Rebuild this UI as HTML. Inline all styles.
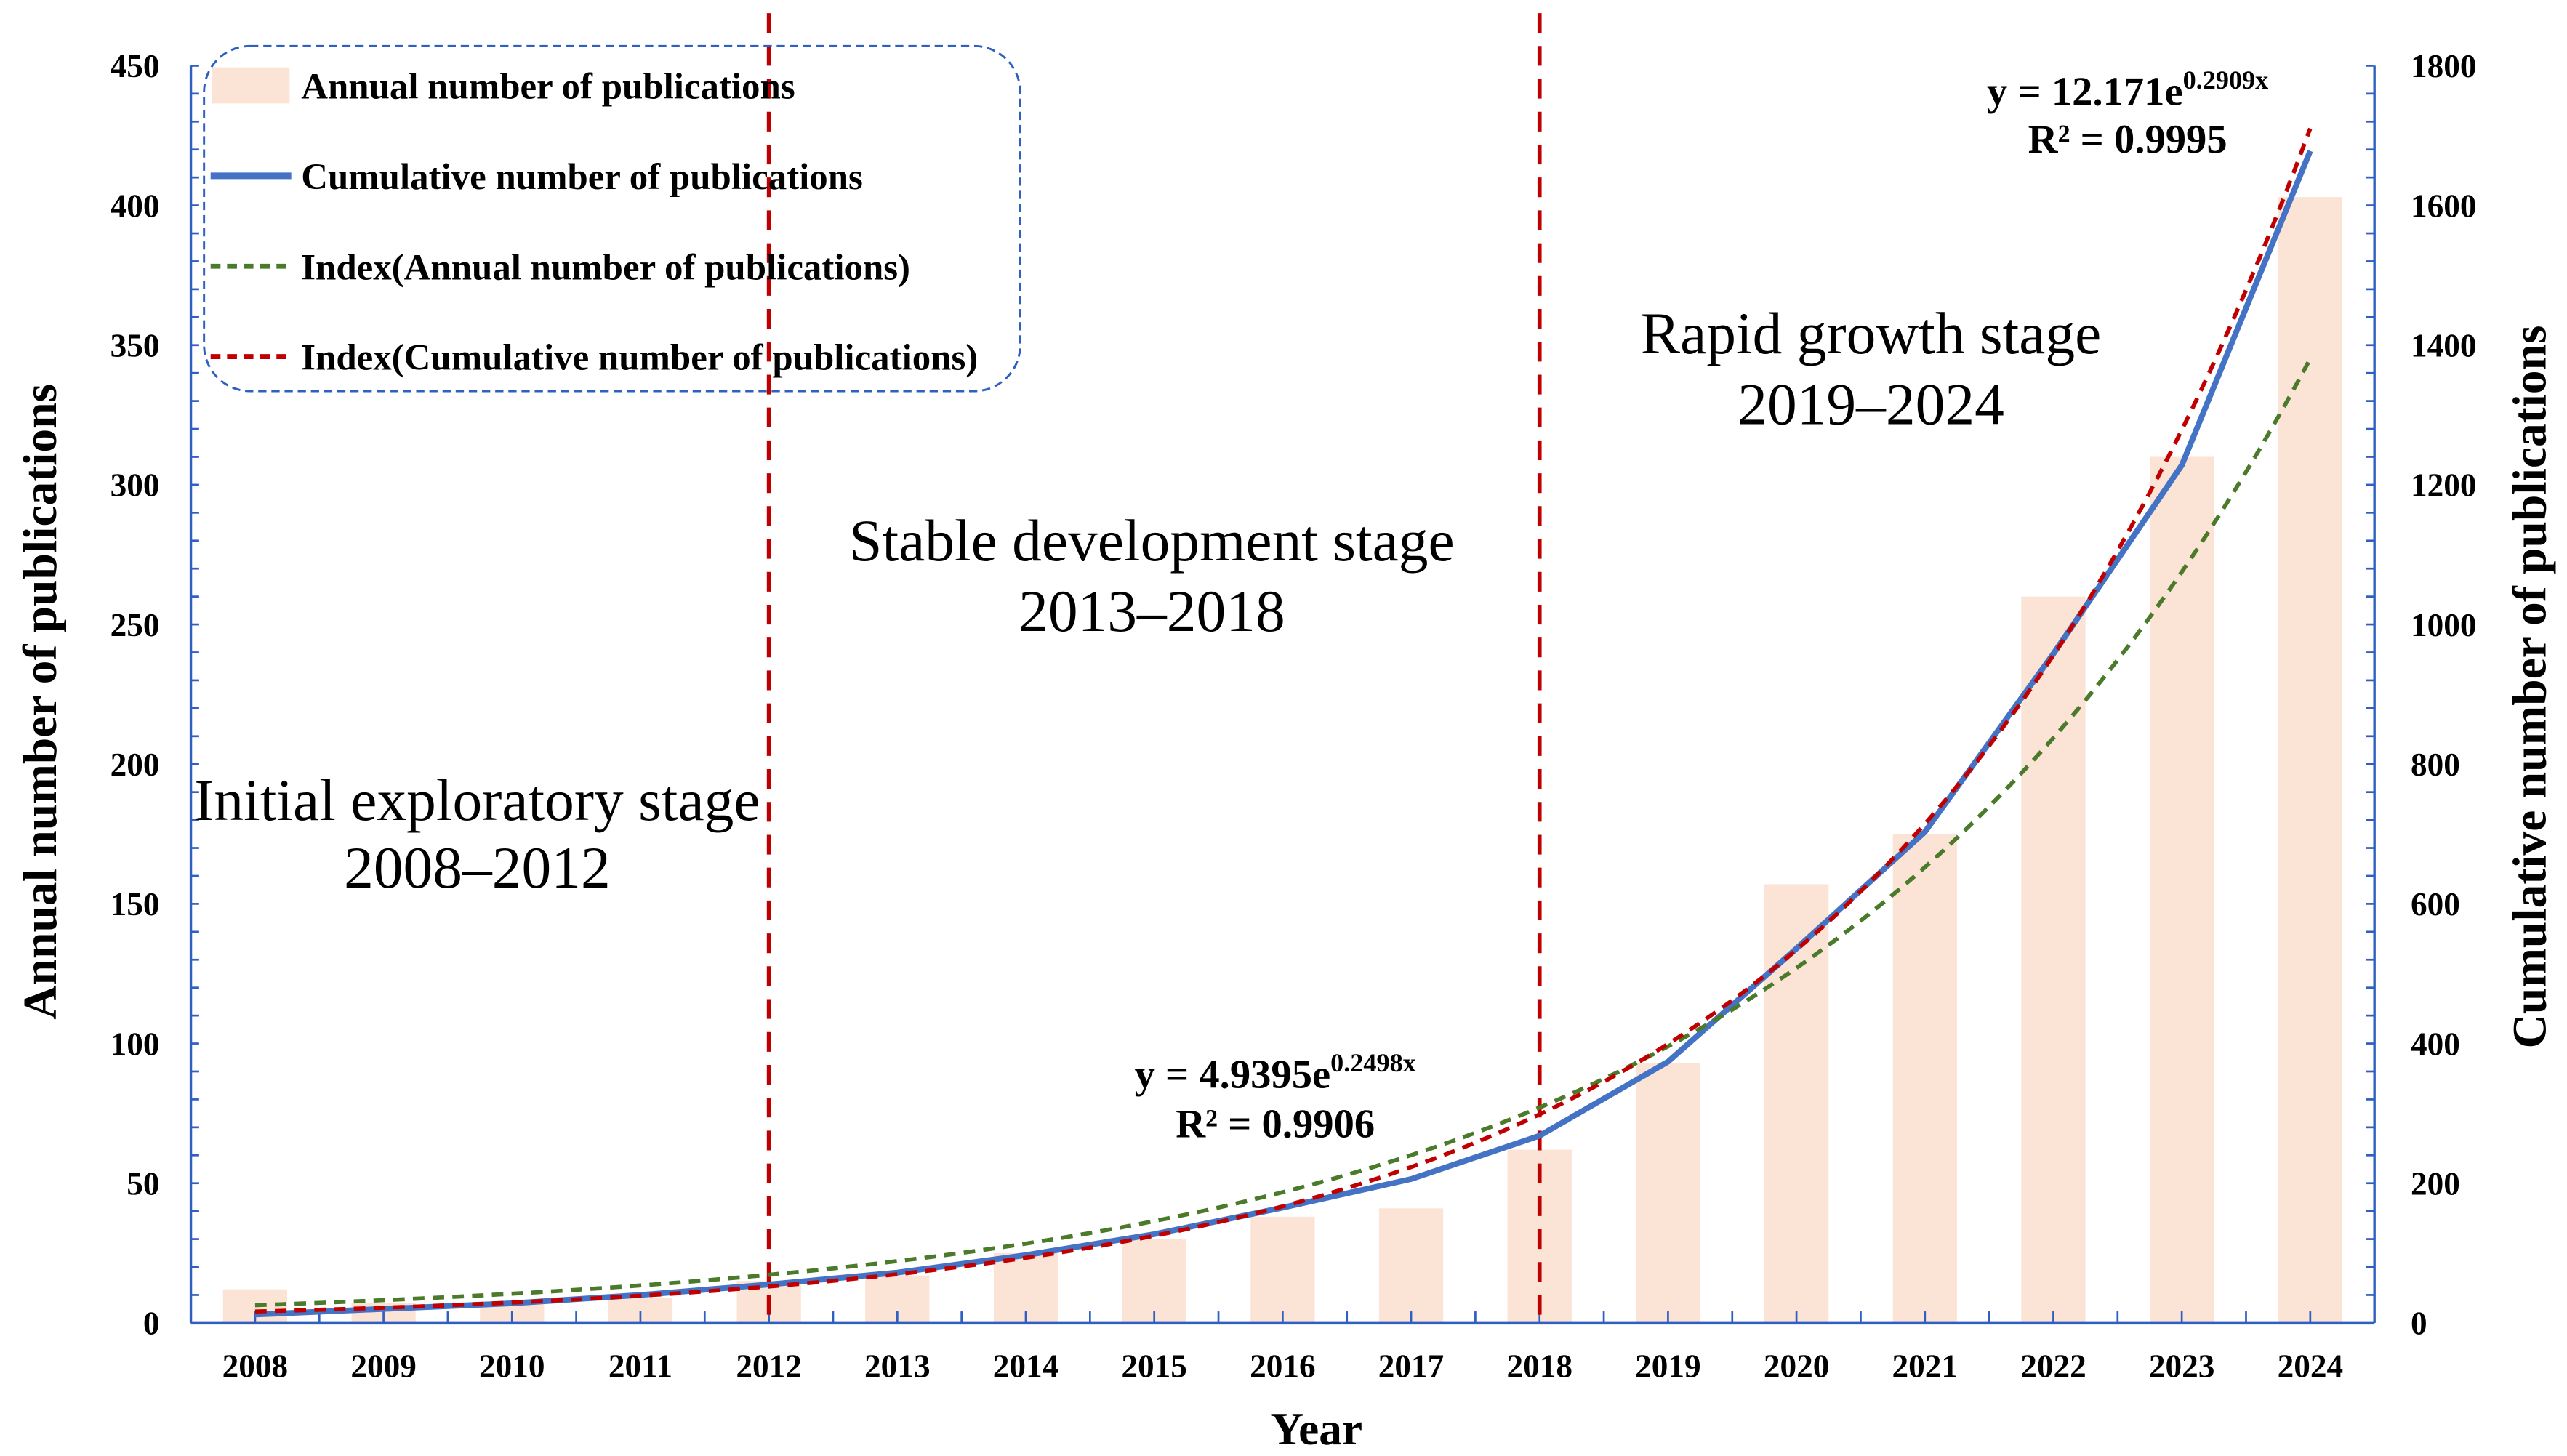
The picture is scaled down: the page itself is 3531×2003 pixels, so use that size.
<!DOCTYPE html>
<html><head><meta charset="utf-8">
<style>
html,body{margin:0;padding:0;background:#fff;}
svg{display:block;}
text{font-family:"Liberation Serif",serif;}
</style></head>
<body>
<svg id="chart" xmlns="http://www.w3.org/2000/svg" width="3531" height="2003" viewBox="0 0 1560 886" preserveAspectRatio="none">
<g id="bars"></g>
<g id="grid"></g>
<g id="lines"></g>
<g id="labels">
  <text x="290" y="499" font-size="36" text-anchor="middle">Initial exploratory stage</text>
  <text x="290" y="540" font-size="36" text-anchor="middle">2008–2012</text>
  <text x="700" y="341" font-size="36" text-anchor="middle">Stable development stage</text>
  <text x="700" y="384" font-size="36" text-anchor="middle">2013–2018</text>
  <text x="1137" y="215" font-size="36" text-anchor="middle">Rapid growth stage</text>
  <text x="1137" y="258" font-size="36" text-anchor="middle">2019–2024</text>
  <text x="775" y="662" font-size="25" font-weight="bold" text-anchor="middle">y = 4.9395e<tspan font-size="16" dy="-10">0.2498x</tspan></text>
  <text x="775" y="692" font-size="25" font-weight="bold" text-anchor="middle">R² = 0.9906</text>
  <text x="1293" y="64" font-size="25" font-weight="bold" text-anchor="middle">y = 12.171e<tspan font-size="16" dy="-10">0.2909x</tspan></text>
  <text x="1293" y="93" font-size="25" font-weight="bold" text-anchor="middle">R² = 0.9995</text>
  <text x="800" y="879" font-size="28" font-weight="bold" text-anchor="middle">Year</text>
  <text transform="translate(34,427) rotate(-90)" font-size="29" font-weight="bold" text-anchor="middle">Annual number of publications</text>
  <text transform="translate(1547,418) rotate(-90)" font-size="29" font-weight="bold" text-anchor="middle">Cumulative number of publications</text>
</g>
<g id="legend">
  <rect x="124" y="28" width="496" height="210" rx="28" fill="none" stroke="#2f5fc0" stroke-width="1.3" stroke-dasharray="5,3"/>
  <rect x="129" y="41" width="47" height="22" fill="#fbe4d5"/>
  <text x="183" y="60" font-size="22.5" font-weight="bold">Annual number of publications</text>
  <line x1="128" y1="107" x2="177" y2="107" stroke="#4472c4" stroke-width="4"/>
  <text x="183" y="115" font-size="22.5" font-weight="bold">Cumulative number of publications</text>
  <line x1="128" y1="162" x2="177" y2="162" stroke="#4a7a2a" stroke-width="3" stroke-dasharray="6,4"/>
  <text x="183" y="170" font-size="22.5" font-weight="bold">Index(Annual number of publications)</text>
  <line x1="128" y1="217" x2="177" y2="217" stroke="#c00000" stroke-width="3" stroke-dasharray="6,4"/>
  <text x="183" y="225" font-size="22.5" font-weight="bold">Index(Cumulative number of publications)</text>
</g>
</svg>
<script>
const years = [2008,2009,2010,2011,2012,2013,2014,2015,2016,2017,2018,2019,2020,2021,2022,2023,2024];
const annualValues = [12,7,7,9,15,17,25,30,38,41,62,93,157,175,260,310,403];
const cumulativeValues = [12,20,28,40,55,72,97,127,165,206,268,374,536,703,958,1228,1678];
const annualFitCoef = [4.9395, 0.2498];
const cumulativeFitCoef = [12.171, 0.2909];
const leftTicks = [0,50,100,150,200,250,300,350,400,450];
const rightTicks = [0,200,400,600,800,1000,1200,1400,1600,1800];
const stageDividerYears = [2012, 2018];

const NS = "http://www.w3.org/2000/svg";
const X0 = 116, X1 = 1443, Y0 = 805, Y1 = 40;
const band = (X1 - X0) / years.length;
function xIdx(i){ return X0 + band * (i + 0.5); }
function yL(v){ return Y0 - (v / 450) * (Y0 - Y1); }
function yR(v){ return Y0 - (v / 1800) * (Y0 - Y1); }
function mk(tag, attrs, parent){ const e = document.createElementNS(NS, tag); for (const k in attrs) e.setAttribute(k, attrs[k]); parent.appendChild(e); return e; }

const gb = document.getElementById('bars');
annualValues.forEach((v, i) => {
  const r = mk('rect', {x: xIdx(i) - 19.5, y: yL(v), width: 39, height: Y0 - yL(v), fill: '#fbe4d5'}, gb);
  
  
});

const ga = document.getElementById('grid');
const axc = '#2f5fc0';
let a = mk('line', {x1: X0, y1: Y1, x2: X0, y2: Y0, stroke: axc, 'stroke-width': 1.5}, ga);


a = mk('line', {x1: X1, y1: Y1, x2: X1, y2: Y0, stroke: axc, 'stroke-width': 1.5}, ga);


a = mk('line', {x1: X0, y1: Y0, x2: X1, y2: Y0, stroke: axc, 'stroke-width': 2}, ga);


for (let v = 0; v <= 450; v += 10) mk('line', {x1: X0, y1: yL(v), x2: X0 + 5, y2: yL(v), stroke: axc, 'stroke-width': 1.2}, ga);
for (let v = 0; v <= 1800; v += 40) mk('line', {x1: X1, y1: yR(v), x2: X1 - 5, y2: yR(v), stroke: axc, 'stroke-width': 1.2}, ga);
for (let k = 0; k <= years.length * 2; k++) { const x = X0 + band * k / 2; mk('line', {x1: x, y1: Y0, x2: x, y2: Y0 - 7, stroke: axc, 'stroke-width': 1.2}, ga); }
leftTicks.forEach(v => {
  const t = mk('text', {x: 97, y: yL(v) + 7, 'font-size': 20, 'font-weight': 'bold', 'text-anchor': 'end'}, ga);
  t.textContent = v;
  
  
});
rightTicks.forEach(v => {
  const t = mk('text', {x: 1465, y: yR(v) + 7, 'font-size': 20, 'font-weight': 'bold'}, ga);
  t.textContent = v;
  
  
});
years.forEach((y, i) => {
  const t = mk('text', {x: xIdx(i), y: 838, 'font-size': 20, 'font-weight': 'bold', 'text-anchor': 'middle'}, ga);
  t.textContent = y;
  
  
});

const gl = document.getElementById('lines');
stageDividerYears.forEach(y => {
  const i = years.indexOf(y);
  const l = mk('line', {x1: xIdx(i), y1: 8, x2: xIdx(i), y2: Y0, stroke: '#c00000', 'stroke-width': 2.5, 'stroke-dasharray': '12,8'}, gl);
  
  
});
function fitPts(coef, yf){
  const pts = [];
  for (let s = 0; s <= 160; s++) { const xv = 1 + s * (years.length - 1) / 160; pts.push((X0 + band * (xv - 0.5)).toFixed(2) + ',' + yf(coef[0] * Math.exp(coef[1] * xv)).toFixed(2)); }
  return pts.join(' ');
}
let p = mk('polyline', {points: cumulativeValues.map((v, i) => xIdx(i) + ',' + yR(v)).join(' '), fill: 'none', stroke: '#4472c4', 'stroke-width': 3.5}, gl);


p = mk('polyline', {points: fitPts(annualFitCoef, yL), fill: 'none', stroke: '#4a7a2a', 'stroke-width': 2.5, 'stroke-dasharray': '7,5'}, gl);


p = mk('polyline', {points: fitPts(cumulativeFitCoef, yR), fill: 'none', stroke: '#c00000', 'stroke-width': 2.5, 'stroke-dasharray': '7,5'}, gl);


</script>
</body></html>
